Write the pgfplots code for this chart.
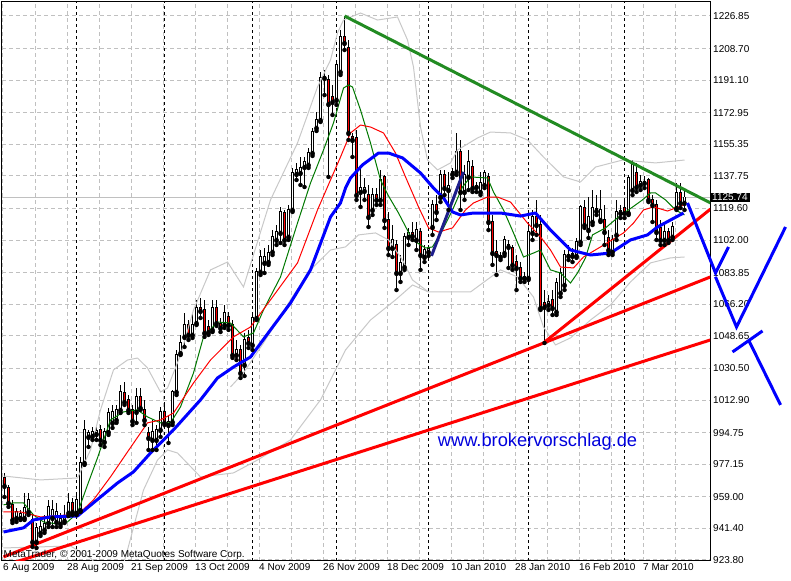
\documentclass[border=0pt]{standalone}
\usepackage{fontspec}
\setmainfont{Liberation Sans}
\usepackage{pgfplots}
\usepackage{pgfplotstable}
\pgfplotsset{compat=1.18}

\definecolor{gridgray}{RGB}{192,192,192}
\definecolor{bandgray}{RGB}{200,200,200}
\definecolor{magreen}{RGB}{0,120,0}
\definecolor{trendgreen}{RGB}{34,139,34}
\definecolor{navyline}{RGB}{30,30,140}
\definecolor{webblue}{RGB}{0,0,220}

% daily candles: bar index, open, high, low, close
\pgfplotstableread{
i o h l c
0 969.5 972.3 958.9 965.1
1 963.9 965.6 953.4 955.6
2 954.5 957.3 944.4 946.1
3 947.2 952.8 945.0 950.6
4 947.2 951.7 946.1 949.5
5 947.2 961.2 946.1 952.8
6 950.6 961.2 948.9 957.3
7 946.1 950.0 931.1 933.9
8 933.9 944.4 930.5 941.7
9 938.9 946.1 937.2 942.2
10 940.6 948.9 938.9 943.9
11 944.4 957.3 942.2 953.4
12 947.2 957.3 942.2 951.7
13 945.0 955.6 942.2 950.6
14 943.9 950.0 942.2 946.7
15 945.6 954.5 944.4 948.3
16 950.0 961.2 948.3 955.6
17 955.6 958.4 948.9 950.6
18 950.0 960.0 948.9 957.3
19 951.7 981.2 950.6 977.9
20 977.9 1001.8 976.8 996.3
21 992.4 996.3 986.8 994.6
22 992.9 997.9 990.7 995.1
23 994.0 999.0 990.7 995.7
24 996.3 999.0 987.9 990.7
25 989.6 997.4 986.8 995.1
26 995.1 1008.5 993.5 1005.7
27 1000.2 1010.2 997.4 1006.3
28 1001.8 1010.2 1000.2 1007.4
29 1007.4 1021.3 1005.7 1017.4
30 1016.9 1023.0 1010.2 1011.8
31 1013.0 1015.7 1005.7 1007.4
32 1007.4 1010.2 999.0 1001.3
33 1006.3 1019.6 1000.2 1014.6
34 1014.6 1019.6 1007.4 1008.5
35 1007.4 1013.0 999.0 1001.8
36 994.6 997.9 985.1 991.8
37 990.7 1001.8 985.1 995.1
38 990.7 999.0 985.1 996.3
39 996.3 1009.1 992.4 1006.3
40 1006.3 1010.2 999.0 1000.2
41 999.0 1004.6 989.0 1000.7
42 1000.7 1018.5 999.0 1017.4
43 1017.4 1040.8 1015.7 1038.0
44 1039.1 1049.2 1038.0 1044.7
45 1048.1 1061.4 1042.5 1054.7
46 1054.7 1057.5 1046.4 1049.2
47 1049.2 1061.4 1047.5 1054.7
48 1055.8 1068.7 1054.7 1064.2
49 1064.2 1069.8 1058.6 1062.5
50 1063.1 1068.7 1048.1 1050.3
51 1053.6 1057.5 1049.2 1050.8
52 1052.0 1068.7 1050.8 1064.2
53 1064.2 1068.7 1054.2 1055.8
54 1055.3 1058.6 1050.8 1053.1
55 1054.7 1065.9 1053.1 1061.4
56 1059.2 1062.0 1052.0 1054.7
57 1054.7 1057.5 1036.4 1038.0
58 1038.0 1046.4 1035.2 1040.8
59 1040.8 1043.6 1025.2 1028.0
60 1032.5 1050.3 1026.3 1046.4
61 1047.5 1052.0 1041.9 1044.7
62 1043.6 1061.4 1040.8 1058.6
63 1058.6 1086.5 1057.5 1084.3
64 1084.3 1096.5 1082.6 1092.6
65 1089.3 1097.6 1083.7 1092.6
66 1089.8 1099.3 1088.2 1094.8
67 1095.4 1107.6 1093.7 1103.8
68 1102.1 1110.4 1099.3 1106.5
69 1106.0 1120.5 1100.4 1117.7
70 1117.1 1118.8 1099.3 1102.1
71 1103.8 1121.6 1102.1 1118.8
72 1118.8 1142.2 1117.7 1139.4
73 1138.8 1145.0 1135.5 1141.1
74 1139.4 1148.3 1132.7 1142.2
75 1142.7 1148.3 1131.6 1145.5
76 1143.9 1153.3 1142.2 1150.5
77 1150.5 1164.5 1148.9 1162.2
78 1164.5 1173.4 1162.8 1168.9
79 1168.9 1195.7 1167.8 1192.3
80 1192.3 1196.8 1182.8 1192.9
81 1191.2 1194.0 1137.2 1177.8
82 1181.7 1188.4 1171.7 1179.0
83 1180.1 1202.3 1177.3 1199.6
84 1195.7 1219.1 1194.0 1215.2
85 1215.2 1226.85 1207.9 1211.8
86 1209.0 1213.5 1157.8 1161.7
87 1159.5 1161.7 1148.3 1157.8
88 1158.9 1163.4 1124.4 1127.1
89 1128.8 1142.2 1120.5 1131.0
90 1129.4 1136.6 1124.4 1131.0
91 1127.1 1132.7 1109.3 1114.9
92 1118.8 1131.0 1116.0 1127.1
93 1127.1 1131.0 1121.6 1124.4
94 1124.4 1141.1 1121.6 1135.5
95 1137.2 1138.3 1108.8 1113.2
96 1113.2 1117.7 1093.7 1097.6
97 1097.6 1110.4 1092.6 1102.1
98 1099.3 1102.1 1074.2 1083.7
99 1083.7 1093.7 1078.7 1089.3
100 1087.0 1106.0 1085.4 1103.8
101 1103.8 1108.8 1099.3 1106.0
102 1106.0 1112.1 1102.1 1104.3
103 1102.1 1112.1 1096.5 1107.6
104 1106.5 1108.8 1085.4 1093.7
105 1092.6 1099.3 1089.8 1096.5
106 1095.4 1099.3 1093.2 1097.1
107 1109.3 1124.4 1104.9 1121.6
108 1121.6 1127.1 1113.2 1117.7
109 1126.0 1141.1 1123.2 1138.3
110 1138.3 1141.1 1127.1 1131.0
111 1129.9 1140.0 1118.8 1132.2
112 1140.0 1142.2 1136.6 1138.8
113 1140.0 1161.7 1138.3 1151.1
114 1151.1 1157.8 1118.8 1128.8
115 1128.8 1143.9 1124.4 1138.3
116 1137.2 1152.2 1129.9 1145.5
117 1142.7 1146.6 1128.8 1131.0
118 1131.6 1134.4 1128.8 1132.2
119 1128.8 1140.0 1127.1 1133.8
120 1132.7 1141.1 1131.0 1139.4
121 1137.2 1139.4 1107.6 1112.1
122 1112.1 1116.0 1088.2 1094.8
123 1095.4 1102.1 1082.6 1093.7
124 1092.6 1095.4 1090.9 1093.2
125 1094.8 1104.3 1093.2 1102.1
126 1099.3 1102.1 1086.5 1098.2
127 1097.6 1099.3 1085.4 1088.2
128 1089.8 1093.7 1074.2 1086.5
129 1086.5 1089.8 1078.7 1080.9
130 1080.9 1084.3 1078.7 1081.5
131 1080.9 1110.4 1079.8 1106.5
132 1106.0 1118.8 1102.1 1114.9
133 1114.9 1124.4 1104.9 1110.4
134 1110.4 1116.0 1063.1 1064.2
135 1067.0 1074.2 1044.7 1064.8
136 1065.9 1071.4 1063.1 1067.5
137 1068.7 1074.2 1060.3 1064.2
138 1062.0 1080.9 1060.3 1078.1
139 1072.6 1086.5 1070.3 1083.7
140 1077.0 1096.5 1074.2 1093.7
141 1093.2 1099.3 1090.9 1093.7
142 1094.3 1097.6 1089.8 1093.2
143 1093.2 1103.2 1092.1 1101.0
144 1101.0 1121.6 1099.3 1120.5
145 1119.9 1124.4 1108.8 1110.4
146 1107.6 1126.0 1103.2 1114.9
147 1112.1 1129.9 1110.4 1119.9
148 1119.3 1127.1 1116.0 1118.2
149 1113.2 1129.9 1112.1 1118.8
150 1113.2 1121.6 1099.3 1106.5
151 1103.2 1107.6 1093.7 1096.5
152 1095.4 1104.9 1093.7 1102.1
153 1104.9 1124.4 1102.1 1117.7
154 1117.1 1121.6 1114.3 1118.2
155 1119.9 1124.4 1114.3 1117.1
156 1117.1 1138.3 1116.0 1136.6
157 1129.9 1146.6 1127.1 1143.9
158 1139.4 1145.0 1128.8 1131.6
159 1132.7 1138.3 1129.9 1134.4
160 1134.4 1137.7 1131.0 1133.8
161 1135.5 1136.6 1123.2 1124.4
162 1124.4 1127.1 1112.1 1121.6
163 1121.6 1124.4 1102.1 1106.5
164 1108.8 1113.2 1099.3 1102.1
165 1102.1 1110.4 1099.3 1106.5
166 1106.5 1108.8 1100.4 1102.1
167 1103.8 1112.1 1102.1 1109.3
168 1119.9 1133.8 1118.8 1128.3
169 1128.3 1133.8 1119.9 1122.7
170 1122.7 1131.0 1118.8 1125.74
}\candles

\begin{document}
\begin{tikzpicture}
\path[use as bounding box] (0,0) rectangle (791pt,580pt);
\begin{axis}[
  at={(2pt,19pt)}, anchor=south west, scale only axis,
  width=708pt, height=559pt,
  xmin=-0.625, xmax=176.375, ymin=923.24, ymax=1234.65,
  axis line style={black, line width=1pt},
  font=\fontsize{10}{12}\selectfont,
  /pgf/number format/assume math mode=true,
  ytick={923.80,941.40,959.00,977.15,994.75,1012.90,1030.50,1048.65,1066.20,1083.85,1102.00,1119.60,1137.75,1155.35,1172.95,1191.10,1208.70,1226.85},
  yticklabels={923.80,941.40,959.00,977.15,994.75,1012.90,1030.50,1048.65,1066.20,1083.85,1102.00,1119.60,1137.75,1155.35,1172.95,1191.10,1208.70,1226.85},
  ytick pos=right, yticklabel pos=right,
  yticklabel style={anchor=west, inner sep=0pt, xshift=3pt},
  xtick={-0.375,15.625,...,159.625},
  xticklabels={6 Aug 2009,28 Aug 2009,21 Sep 2009,13 Oct 2009,4 Nov 2009,26 Nov 2009,18 Dec 2009,10 Jan 2010,28 Jan 2010,16 Feb 2010,7 Mar 2010},
  xtick pos=bottom,
  xticklabel style={anchor=north west, inner sep=0pt, yshift=-2pt},
  minor xtick={7.625,23.625,...,175.625},
  major tick length=0pt, minor tick length=0pt,
  xmajorgrids, xminorgrids, ymajorgrids,
  major grid style={gridgray, line width=1pt, dash pattern=on 4pt off 3pt},
  minor grid style={gridgray, line width=1pt, dash pattern=on 4pt off 3pt},
  extra x ticks={18,40,62,83,106,131,155},
  extra x tick labels={},
  extra x tick style={grid=major, major grid style={black, line width=1pt, dash pattern=on 3pt off 3pt}},
  extra y ticks={1125.74},
  extra y tick labels={1125.74},
  extra y tick style={grid=major, major grid style={gridgray, line width=1pt, solid},
    yticklabel style={fill=black, text=white, inner xsep=2pt, inner ysep=1.4pt, xshift=-3pt}},
]
% wicks
\addplot[only marks, mark=none, forget plot,
  error bars/.cd, y dir=plus, y explicit, error mark=none,
  error bar style={black, line width=1pt}]
  table[x=i, y=l, y error expr=\thisrow{h}-\thisrow{l}] {\candles};
% body outline
\addplot[only marks, mark=none, forget plot,
  error bars/.cd, y dir=plus, y explicit, error mark=none,
  error bar style={black, line width=3pt, line cap=butt}]
  table[x=i, y expr={min(\thisrow{o},\thisrow{c})-0.55}, y error expr={abs(\thisrow{c}-\thisrow{o})+1.1}] {\candles};
% up bodies
\addplot[only marks, mark=none, forget plot,
  restrict expr to domain={\thisrow{c}-\thisrow{o}}{0.01:1000},
  error bars/.cd, y dir=plus, y explicit, error mark=none,
  error bar style={white, line width=1pt, line cap=butt}]
  table[x=i, y=o, y error expr=\thisrow{c}-\thisrow{o}] {\candles};
% down bodies
\addplot[only marks, mark=none, forget plot,
  restrict expr to domain={\thisrow{o}-\thisrow{c}}{0.01:1000},
  error bars/.cd, y dir=plus, y explicit, error mark=none,
  error bar style={red, line width=1pt, line cap=butt}]
  table[x=i, y=c, y error expr=\thisrow{o}-\thisrow{c}] {\candles};

% bands
\addplot[bandgray, line width=1pt] coordinates {
(-0.25,970.6) (9,968.4) (18.25,969.5) (21.5,985.1) (24,1007.4) (27.25,1029.7) (30.75,1035.2)
(33.25,1036.3) (35.75,1030.8) (39,1017.4) (40.75,1019.6) (44,1038.0) (47.25,1063.1) (51.5,1085.4)
(55.75,1089.8) (59.75,1075.9) (66.5,1124.4) (73.25,1156.1) (78.25,1187.3) (81.5,1202.3)
(83.25,1217.4) (84.75,1224.6) (89,1228.5) (93.25,1224.6) (98.25,1226.3) (100.75,1213.5)
(102.25,1198.4) (104,1165.0) (105.75,1146.6) (108.25,1141.1) (111.5,1145.0) (113.25,1152.2)
(118.25,1158.9) (121.5,1162.2) (126.5,1161.7) (130.75,1157.8) (134.75,1148.3) (139.75,1137.2)
(144,1134.4) (147.75,1142.7) (154.5,1146.6) (162.75,1145.0) (170,1146.6)};
\addplot[bandgray, line width=1pt] coordinates {
(-0.25,930.5) (16.5,931.6) (21.5,924.9) (25.25,915.5) (29,915.5) (30.75,929.4) (34.75,962.8)
(38.25,979.5) (40.75,985.1) (43.25,983.4) (49,970.1) (57.25,972.3) (63.25,979.5) (71.5,990.7)
(79,1013.0) (85.25,1040.8) (91.5,1057.5) (97.75,1068.7) (102,1077.0) (106,1073.1) (116.5,1073.1)
(124,1085.4) (128.25,1081.5) (132.25,1070.3) (134.75,1053.6) (137.75,1043.6) (141.5,1047.5)
(146.5,1057.5) (151.5,1065.9) (156.5,1078.7) (161.5,1089.3) (166.5,1092.1) (170,1092.6)};
\addplot[bandgray, line width=1pt] coordinates {
(56.5,1020.2) (59.75,1028.0) (64.75,1044.7) (71.5,1068.7) (76.5,1085.4) (81.5,1096.5)
(85.25,1098.2) (88.5,1104.9) (92.75,1106.0) (96,1102.1) (99.5,1090.9) (102,1079.8) (106,1073.1)};

% fast average (green)
\addplot[magreen, line width=1pt] coordinates {
(-0.25,954.5) (2.25,955.6) (4.75,955.6) (7.25,948.9) (9.75,945.0) (13.25,943.9) (15.75,945.0)
(18.25,950.0) (20.75,965.6) (23.25,980.7) (26.5,1001.8) (29.75,1006.3) (33.25,1007.4)
(35.75,1003.5) (39,1000.2) (41.5,1000.2) (44,1009.1) (47.25,1028.0) (49.75,1048.1) (53.25,1056.4)
(56.5,1055.8) (59.75,1048.1) (62.25,1050.3) (64.75,1063.1) (69,1081.5) (73.25,1111.5)
(76.5,1133.8) (79.75,1152.2) (82.25,1167.3) (84.75,1186.7) (86,1188.4) (87,1187.3) (89,1174.5)
(91.5,1156.1) (94,1135.5) (96,1126.6) (98.5,1117.1) (102,1102.1) (105.25,1097.6) (107,1098.2)
(109.5,1107.6) (112,1118.8) (114.5,1131.6) (116.5,1137.2) (120.75,1136.6) (122.25,1128.8)
(124.75,1118.8) (127.25,1106.0) (129.75,1092.6) (132.25,1094.8) (134,1096.5) (136.5,1085.4)
(139,1083.7) (141.5,1078.1) (143.25,1083.7) (145.25,1092.1) (147,1104.9) (150.25,1108.8)
(153.5,1114.9) (156,1118.8) (159.5,1124.4) (161.5,1128.3) (162.75,1128.3) (165.25,1124.4)
(167.75,1118.8) (170,1116.0)};
% middle average (red)
\addplot[red, line width=1pt] coordinates {
(-0.25,950.6) (4,950.6) (9,947.8) (15.75,948.9) (18.25,948.9) (22.25,957.3) (26.5,970.1)
(30.75,984.0) (35.75,1000.2) (39,1001.8) (42.25,1005.7) (47.25,1022.4) (51.5,1035.2)
(57.25,1048.1) (61.5,1053.6) (66.5,1068.7) (73.25,1089.3) (78.25,1118.8) (81.5,1135.5)
(84,1148.3) (86.5,1161.7) (89,1166.1) (91.5,1165.0) (94.75,1161.7) (97.75,1150.5) (100.25,1137.2)
(103.5,1120.5) (106,1108.8) (108.5,1106.5) (112,1108.8) (115.25,1118.8) (117.25,1122.7)
(120.75,1126.0) (123.25,1126.0) (126.5,1123.2) (130.75,1111.5) (134,1103.8) (136.5,1096.5)
(139,1087.0) (142.25,1086.5) (144.75,1092.6) (149,1098.2) (154.75,1106.0) (157.25,1111.5)
(159.75,1118.8) (162.25,1120.5) (165.75,1118.2) (169.75,1121.6)};
% slow average (blue)
\addplot[blue, line width=3pt, line join=round] coordinates {
(-0.25,939.4) (4.75,941.7) (7.25,946.1) (11.5,947.8) (18.25,948.3) (24,958.9) (28.25,966.7)
(32.25,972.9) (36.5,983.4) (39.75,990.7) (42.25,996.3) (49,1013.0) (53.25,1025.2) (57.25,1031.3)
(61.5,1036.9) (66.5,1052.0) (71.5,1067.0) (76.5,1085.4) (81.5,1114.9) (84,1122.7) (85.25,1131.0)
(86.5,1136.6) (89.5,1143.9) (93.5,1150.5) (96,1150.5) (99.5,1147.8) (104,1139.4) (107.25,1131.0)
(109.75,1125.5) (112,1117.7) (114,1116.0) (117.25,1117.1) (124,1117.1) (129,1115.4)
(132.75,1117.1) (136.5,1107.6) (141.5,1096.5) (146.5,1093.7) (151.5,1094.8) (156.5,1102.1)
(160.75,1104.9) (163.25,1109.3) (166.5,1113.2) (169.75,1117.1)};

% trend lines
\addplot[trendgreen, line width=3pt] coordinates {(85,1226.85) (176.5,1122.7)};
\addplot[red, line width=3pt] coordinates {(134.75,1044.7) (176.5,1119.3)};
\addplot[red, line width=3pt] coordinates {(-0.25,925.5) (176.5,1081.5)};
\addplot[red, line width=3pt] coordinates {(-0.25,920.5) (176.5,1046.4)};
\addplot[navyline, line width=3pt] coordinates {(106.75,1093.2) (114.75,1140.0)};

\node[anchor=base west, inner sep=0pt, font=\fontsize{10}{12}\selectfont] at (axis cs:-0.25,924.95) {MetaTrader, © 2001-2009 MetaQuotes Software Corp.};
\node[inner sep=0pt, text=webblue, font=\fontsize{18.3}{22}\selectfont] at (axis cs:133.25,989.6) {www.brokervorschlag.de};
\end{axis}

% projected wave, drawn over the price scale
\begin{axis}[
  at={(2pt,19pt)}, anchor=south west, scale only axis,
  width=789pt, height=559pt,
  xmin=-0.625, xmax=196.625, ymin=923.24, ymax=1234.65,
  hide axis, clip=false,
]
\addplot[blue, line width=3pt] coordinates {(170.75,1122.7) (177.75,1083.7) (181,1098.2)};
\addplot[blue, line width=3pt] coordinates {(177.75,1081.5) (183,1053.6) (195.25,1109.3)};
\addplot[blue, line width=3pt] coordinates {(182,1039.7) (189.5,1051.4)};
\addplot[blue, line width=3pt] coordinates {(186,1046.4) (194,1010.2)};
\end{axis}
\end{tikzpicture}
\end{document}
